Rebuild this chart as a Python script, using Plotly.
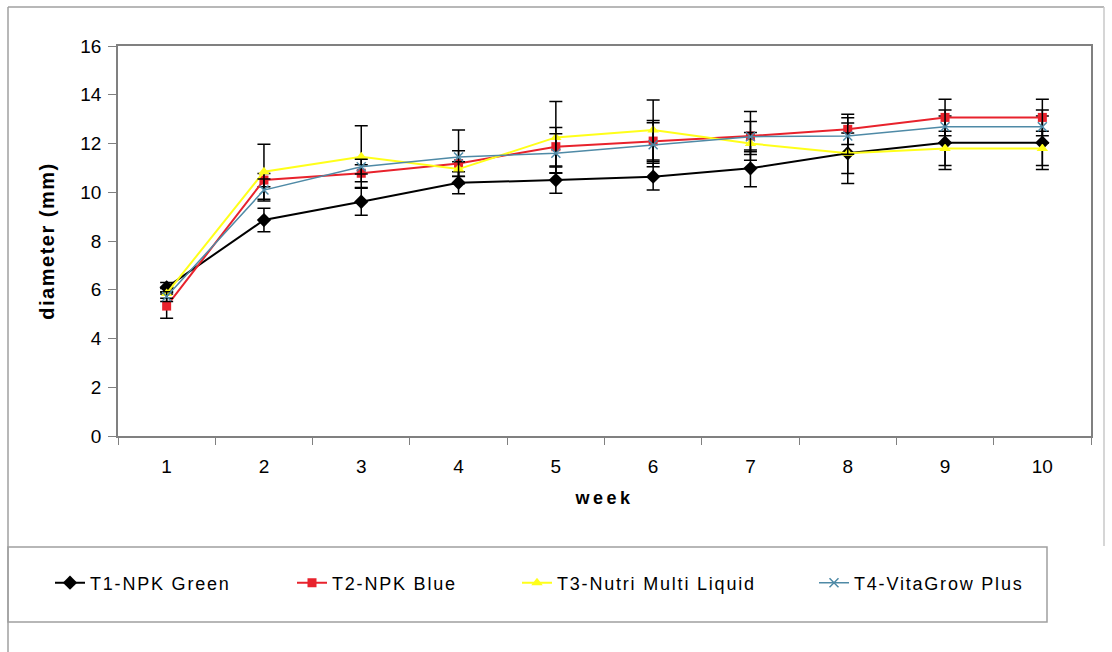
import plotly.graph_objects as go

weeks = ["1", "2", "3", "4", "5", "6", "7", "8", "9", "10"]

t1 = [6.10, 8.86, 9.61, 10.39, 10.50, 10.64, 10.98, 11.60, 12.03, 12.03]
t1_sd = [0.20, 0.48, 0.55, 0.45, 0.54, 0.55, 0.75, 1.24, 1.10, 1.10]

t2 = [5.33, 10.50, 10.78, 11.18, 11.87, 12.10, 12.31, 12.58, 13.07, 13.07]
t2_sd = [0.50, 0.27, 0.35, 0.52, 0.79, 0.84, 1.00, 0.62, 0.75, 0.75]

t3 = [5.85, 10.84, 11.46, 10.95, 12.25, 12.55, 12.00, 11.60, 11.80, 11.80]
t3_sd = [0.20, 1.13, 1.27, 0.30, 1.47, 1.23, 0.45, 0.83, 0.70, 0.70]

t4 = [5.72, 10.09, 11.05, 11.45, 11.60, 11.95, 12.28, 12.31, 12.69, 12.69]
t4_sd = [0.20, 0.45, 0.30, 1.10, 0.80, 0.90, 0.62, 0.75, 0.68, 0.68]

names = ["T1-NPK Green", "T2-NPK Blue", "T3-Nutri Multi Liquid", "T4-VitaGrow Plus"]
ys = [t1, t2, t3, t4]
sds = [t1_sd, t2_sd, t3_sd, t4_sd]
colors = ["#000000", "#e8222c", "#ffff1a", "#4f8aa6"]
symbols = ["diamond", "square", "triangle-up", "x-thin"]
sizes = [11, 9, 10, 9]
widths = [2, 2, 2, 1.5]
legend_ids = ["legend", "legend2", "legend3", "legend4"]

FONT = "Liberation Sans, Arial, sans-serif"

W, H = 1112, 652
ML, MR, MT, MB = 118, 21, 46, 216
PW, PH = W - ML - MR, H - MT - MB


def px(x):
    return (x - ML) / PW


def py(y):
    return (H - MB - y) / PH


def spaced(text, sp):
    return '<span style="letter-spacing:%spx">%s</span>' % (sp, text)


fig = go.Figure()
for name, y, sd, c, s, sz, w, lg in zip(names, ys, sds, colors, symbols, sizes, widths, legend_ids):
    fig.add_trace(go.Scatter(
        x=weeks, y=y, name=spaced(name, 1.8), mode="lines+markers",
        line=dict(color=c, width=w),
        marker=dict(symbol=s, size=sz, color=c,
                    line=dict(color=c, width=1.5 if s == "x-thin" else 0)),
        error_y=dict(type="data", array=sd, visible=True, color="#000000",
                     thickness=1.5, width=6.5),
        legend=lg,
    ))

legend_text_x = [88, 330, 555, 852]
legend_common = dict(orientation="h", yanchor="middle", xanchor="left",
                     font=dict(family=FONT, size=18, color="#000000"),
                     bgcolor="rgba(0,0,0,0)", borderwidth=0)
layout_legends = {}
for lg, tx in zip(legend_ids, legend_text_x):
    layout_legends[lg] = dict(x=px(tx - 38), y=py(583), **legend_common)

shapes = [
    dict(type="line", xref="paper", yref="paper", x0=px(8), x1=px(1104), y0=py(7), y1=py(7),
         line=dict(color="#a0a0a0", width=1.5)),
    dict(type="line", xref="paper", yref="paper", x0=px(8), x1=px(8), y0=py(7), y1=py(652),
         line=dict(color="#a0a0a0", width=1.5)),
    dict(type="line", xref="paper", yref="paper", x0=px(1104), x1=px(1104), y0=py(7), y1=py(546),
         line=dict(color="#c8c8c8", width=1.5)),
    dict(type="rect", xref="paper", yref="paper", x0=px(8), x1=px(1047), y0=py(547), y1=py(622),
         line=dict(color="#a0a0a0", width=1.5), fillcolor="rgba(0,0,0,0)"),
]

fig.update_layout(
    width=W, height=H,
    margin=dict(l=ML, r=MR, t=MT, b=MB, autoexpand=False),
    paper_bgcolor="white", plot_bgcolor="white",
    font=dict(family=FONT, size=18, color="#000000"),
    shapes=shapes,
    showlegend=True,
    **layout_legends,
)

fig.update_xaxes(
    type="category", range=[-0.5, 9.5], tickson="boundaries", ticks="outside", ticklen=7,
    tickcolor="#808080", showline=True, linecolor="#808080", linewidth=1.5,
    mirror=True, showgrid=False, zeroline=False,
    tickfont=dict(family=FONT, size=19, color="#000000"),
    ticklabelstandoff=12,
    title=dict(text=spaced("<b>week</b>", 3.5), font=dict(family=FONT, size=18), standoff=16),
)
fig.update_yaxes(
    range=[0, 16], dtick=2, ticks="outside", ticklen=8,
    tickcolor="#808080", showline=True, linecolor="#808080", linewidth=1.5,
    mirror=True, showgrid=False, zeroline=False,
    tickfont=dict(family=FONT, size=19, color="#000000"),
    ticklabelstandoff=3,
    title=dict(text=spaced("<b>diameter (mm)</b>", 1.5), font=dict(family=FONT, size=20), standoff=20),
)

fig.write_html("out.html")
